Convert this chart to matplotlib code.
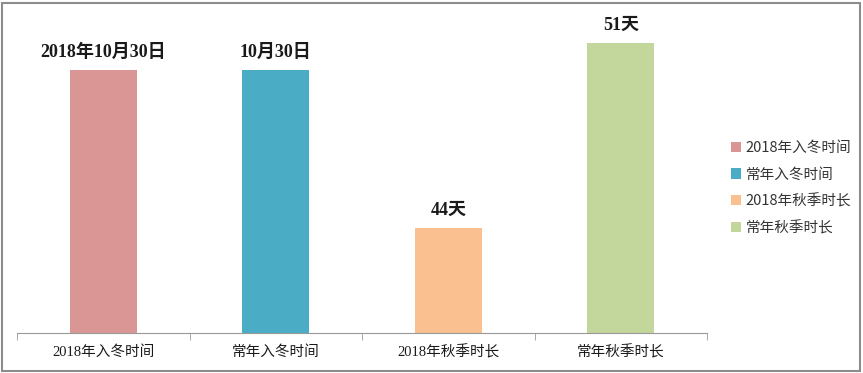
import matplotlib.pyplot as plt
from matplotlib.patches import Rectangle, Patch

categories = ['2018年入冬时间', '常年入冬时间', '2018年秋季时长', '常年秋季时长']
bar_heights = [263, 263, 105, 290]
bar_labels = ['2018年10月30日', '10月30日', '44天', '51天']
colors = ['#D99694', '#4BACC6', '#FAC090', '#C3D69B']

serif_cjk = ['Liberation Serif', 'Noto Sans CJK SC']
sans_cjk = ['Noto Sans CJK SC', 'DejaVu Sans']

fig = plt.figure(figsize=(8.63, 3.73), dpi=100)
ax = fig.add_axes([17 / 863, 40 / 373, 690 / 863, 320 / 373])

x = range(len(categories))
bars = ax.bar(x, bar_heights, width=0.39, color=colors)

for b, lab in zip(bars, bar_labels):
    ax.text(b.get_x() + b.get_width() / 2, b.get_height() + 9, lab,
            ha='center', va='bottom', fontsize=13, fontweight='bold',
            family=serif_cjk, color='#1a1a1a')

ax.set_xlim(-0.5, len(categories) - 0.5)
ax.set_ylim(0, 320)
ax.set_xticks(list(x))
ax.set_xticklabels(categories, family=serif_cjk, fontsize=10.5, color='#1a1a1a')
ax.set_xticks([i - 0.5 for i in range(len(categories) + 1)], minor=True)
ax.tick_params(axis='x', which='major', length=0, pad=9)
ax.tick_params(axis='x', which='minor', length=5, color='#999999')
ax.set_yticks([])
for s in ['top', 'right', 'left']:
    ax.spines[s].set_visible(False)
ax.spines['bottom'].set_color('#999999')

handles = [Patch(facecolor=c, edgecolor='none') for c in colors]
leg = fig.legend(handles, categories, loc='upper left',
                 bbox_to_anchor=(718 / 863, 1 - 128 / 373), frameon=False,
                 prop={'family': sans_cjk, 'size': 10.5},
                 handlelength=0.7, handleheight=0.7, handletextpad=0.3,
                 labelspacing=0.85, labelcolor='#333333')

fig.patches.append(Rectangle((2 / 863, 2 / 373), 858 / 863, 368 / 373,
                             transform=fig.transFigure, fill=False,
                             edgecolor='#8c8c8c', linewidth=1.5))

fig.savefig('out.png', dpi=100)
